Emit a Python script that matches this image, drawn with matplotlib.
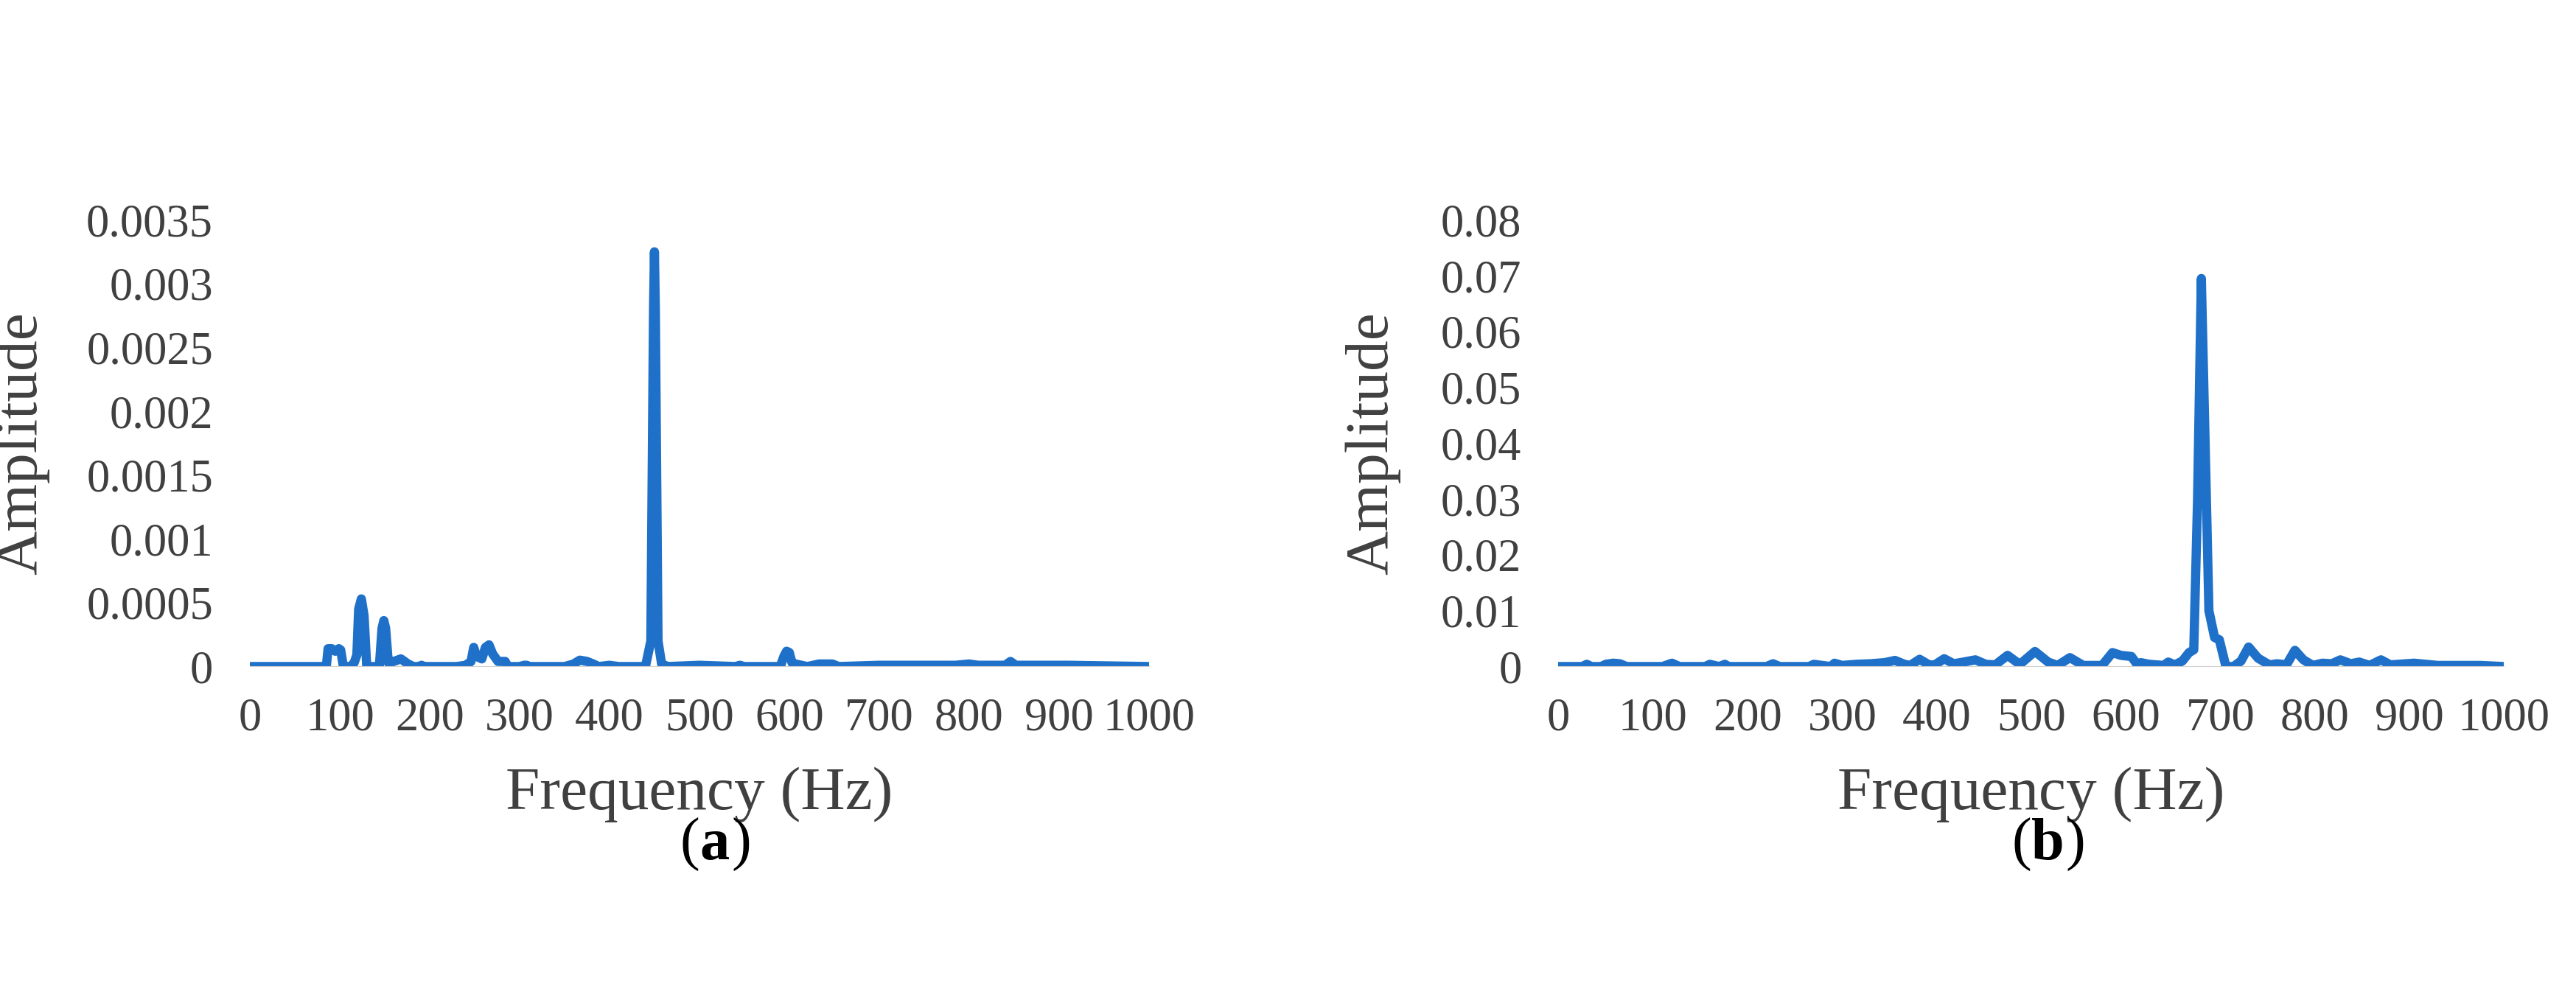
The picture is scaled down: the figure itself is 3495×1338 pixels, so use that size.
import matplotlib.pyplot as plt

# (a) spectrum keypoints
freq_a = [0, 85, 87, 91, 95, 99, 101, 104, 112, 116, 119, 121, 124, 127, 130, 144, 147, 149, 151, 154,
          160, 168, 176, 182, 188, 191, 194, 230, 240, 246, 249, 252, 258, 262, 266, 270, 276, 284, 287,
          300, 305, 308, 311, 350, 360, 367, 375, 382, 388, 400, 410, 440, 446, 449, 450, 451, 454, 458,
          465, 500, 540, 545, 550, 590, 594, 597, 600, 603, 607, 620, 633, 640, 648, 655, 700, 715, 730,
          760, 785, 800, 810, 840, 846, 852, 880, 910, 1000]
amp_a = [0, 0, 0.00014, 0.00014, 0.00012, 0.00014, 0.00013, 0, 0, 0.00003, 0.00009, 0.00045, 0.00053,
         0.0004, 0, 0, 0.0003, 0.00036, 0.0003, 0.00003, 0.00004, 0.00006, 0.00002, 0, 0, 0.00001, 0,
         0, 0.00001, 0.00004, 0.00015, 0.00008, 0.00006, 0.00015, 0.00017, 0.0001, 0.00004, 0.00004, 0,
         0, 0.00001, 0.00001, 0, 0, 0.00002, 0.00005, 0.00004, 0.00002, 0, 0.00001, 0, 0, 0.0002,
         0.0028, 0.00325, 0.0028, 0.0002, 0.00002, 0, 0.00001, 0, 0.00001, 0, 0, 0.00008, 0.00012,
         0.00011, 0.00003, 0.00002, 0, 0.00002, 0.00002, 0.00002, 0, 0.00001, 0.00001, 0.00001, 0.00001,
         0.00001, 0.00002, 0.00001, 0.00001, 0.00004, 0.00001, 0.00001, 0.00001, 0]

# (b) spectrum keypoints
freq_b = [0, 25, 30, 35, 45, 50, 58, 65, 72, 110, 120, 128, 155, 160, 170, 176, 180, 220, 227, 234,
          265, 270, 288, 292, 300, 315, 330, 345, 356, 366, 372, 382, 392, 398, 408, 418, 425, 441, 452,
          462, 475, 488, 504, 518, 528, 541, 555, 575, 586, 595, 606, 612, 616, 625, 640, 645, 652, 660,
          667, 672, 676, 680, 684, 688, 694, 699, 706, 714, 722, 730, 740, 752, 760, 770, 779, 788, 798,
          808, 818, 827, 838, 847, 858, 870, 880, 905, 930, 960, 975, 1000]
amp_b = [0, 0, 0.0004, 0, 0, 0.0004, 0.0006, 0.0005, 0, 0, 0.0006, 0, 0, 0.0004, 0, 0.0004, 0, 0,
         0.0005, 0, 0, 0.0004, 0, 0.0006, 0.0002, 0.0004, 0.0005, 0.0007, 0.0011, 0.0004, 0.0002,
         0.0013, 0.0003, 0.0003, 0.0014, 0.0005, 0.0007, 0.0012, 0.0004, 0.0003, 0.0020, 0.0004,
         0.0027, 0.0008, 0.0002, 0.0016, 0.0002, 0.0002, 0.0025, 0.0020, 0.0018, 0.0004, 0.0007, 0.0004,
         0.0002, 0.0008, 0.0003, 0.0010, 0.0025, 0.0030, 0.030, 0.0695, 0.040, 0.010, 0.0052, 0.0048,
         0.0, 0.0, 0.0010, 0.0035, 0.0015, 0.0003, 0.0005, 0.0003, 0.0029, 0.0012, 0.0002, 0.0006,
         0.0005, 0.0012, 0.0005, 0.0008, 0.0002, 0.0012, 0.0003, 0.0006, 0.0002, 0.0002, 0.0002, 0]

x_ticks = list(range(0, 1001, 100))
yticks_a = [0, 0.0005, 0.001, 0.0015, 0.002, 0.0025, 0.003, 0.0035]
yticks_b = [0, 0.01, 0.02, 0.03, 0.04, 0.05, 0.06, 0.07, 0.08]

plt.rcParams['font.family'] = ['Liberation Serif', 'DejaVu Serif']
color = '#1f70c8'

fig = plt.figure(figsize=(34.95, 13.38), dpi=100)
axes = [fig.add_axes([0.097, 0.324, 0.349, 0.453]), fig.add_axes([0.605, 0.324, 0.367, 0.453])]
datasets = [(freq_a, amp_a, yticks_a, ['0', '0.0005', '0.001', '0.0015', '0.002', '0.0025', '0.003', '0.0035'], '(a)', -0.223),
            (freq_b, amp_b, yticks_b, ['0'] + ['%g' % v for v in yticks_b[1:]], '(b)', -0.167)]

for ax, (f, a, yt, ylab, tag, ylx) in zip(axes, datasets):
    ax.plot(f, a, color=color, lw=9, solid_joinstyle='round', solid_capstyle='round')
    ax.set_xlim(0, 1000)
    ax.set_ylim(0, yt[-1])
    ax.set_xticks(x_ticks)
    ax.set_yticks(yt)
    ax.set_yticklabels(ylab)
    ax.tick_params(length=0, labelsize=45, colors='#404040')
    ax.tick_params(axis='x', pad=30)
    ax.tick_params(axis='y', pad=36)
    for s in ['top', 'right', 'left']:
        ax.spines[s].set_visible(False)
    ax.spines['bottom'].set_color('#d0d0d0')
    ax.set_xlabel('Frequency (Hz)', fontsize=60, labelpad=26, color='#404040')
    ax.set_ylabel('Amplitude', fontsize=60, color='#404040')
    ax.yaxis.set_label_coords(ylx, 0.5)
    ax.text(0.5, -0.40, tag[0], transform=ax.transAxes, ha='right', va='center', fontsize=58)
    ax.text(0.5, -0.40, tag[1], transform=ax.transAxes, ha='left', va='center', fontsize=58, fontweight='bold')
    ax.text(0.5 + 0.036, -0.40, tag[2], transform=ax.transAxes, ha='left', va='center', fontsize=58)

fig.savefig('out.png', dpi=100)
